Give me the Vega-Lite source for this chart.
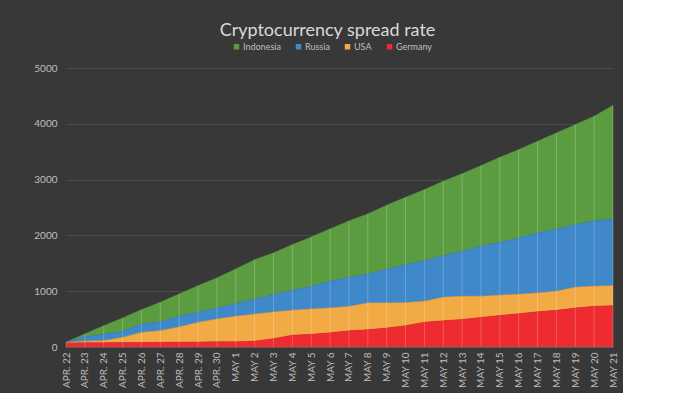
{
  "$schema": "https://vega.github.io/schema/vega-lite/v6.json",
  "autosize": {"type": "none"},
  "padding": {"left": 66, "top": 68, "right": 10, "bottom": 46},
  "width": 547,
  "height": 279,
  "background": "#383838",
  "title": {
    "text": "Cryptocurrency spread rate",
    "font": "Lato",
    "fontSize": 18,
    "fontWeight": "normal",
    "color": "#d9d9d9",
    "anchor": "middle",
    "frame": "group",
    "dx": -12,
    "offset": 2
  },
  "data": {
    "values": [
      {"date": "APR. 22", "Indonesia": 3, "Russia": 4, "USA": 8, "Germany": 70},
      {"date": "APR. 23", "Indonesia": 50, "Russia": 80, "USA": 30, "Germany": 75},
      {"date": "APR. 24", "Indonesia": 150, "Russia": 117, "USA": 35, "Germany": 78},
      {"date": "APR. 25", "Indonesia": 240, "Russia": 108, "USA": 92, "Germany": 80},
      {"date": "APR. 26", "Indonesia": 257, "Russia": 150, "USA": 180, "Germany": 82},
      {"date": "APR. 27", "Indonesia": 345, "Russia": 163, "USA": 208, "Germany": 84},
      {"date": "APR. 28", "Indonesia": 398, "Russia": 194, "USA": 272, "Germany": 86},
      {"date": "APR. 29", "Indonesia": 477, "Russia": 181, "USA": 353, "Germany": 88},
      {"date": "APR. 30", "Indonesia": 538, "Russia": 197, "USA": 410, "Germany": 92},
      {"date": "MAY 1", "Indonesia": 622, "Russia": 227, "USA": 454, "Germany": 95},
      {"date": "MAY 2", "Indonesia": 710, "Russia": 267, "USA": 483, "Germany": 105},
      {"date": "MAY 3", "Indonesia": 747, "Russia": 311, "USA": 477, "Germany": 150},
      {"date": "MAY 4", "Indonesia": 818, "Russia": 359, "USA": 445, "Germany": 212},
      {"date": "MAY 5", "Indonesia": 884, "Russia": 406, "USA": 453, "Germany": 228},
      {"date": "MAY 6", "Indonesia": 938, "Russia": 478, "USA": 444, "Germany": 255},
      {"date": "MAY 7", "Indonesia": 1010, "Russia": 525, "USA": 435, "Germany": 290},
      {"date": "MAY 8", "Indonesia": 1076, "Russia": 519, "USA": 479, "Germany": 310},
      {"date": "MAY 9", "Indonesia": 1141, "Russia": 609, "USA": 449, "Germany": 340},
      {"date": "MAY 10", "Indonesia": 1206, "Russia": 681, "USA": 413, "Germany": 382},
      {"date": "MAY 11", "Indonesia": 1273, "Russia": 729, "USA": 373, "Germany": 445},
      {"date": "MAY 12", "Indonesia": 1332, "Russia": 747, "USA": 420, "Germany": 470},
      {"date": "MAY 13", "Indonesia": 1391, "Russia": 807, "USA": 413, "Germany": 495},
      {"date": "MAY 14", "Indonesia": 1446, "Russia": 894, "USA": 380, "Germany": 530},
      {"date": "MAY 15", "Indonesia": 1523, "Russia": 950, "USA": 361, "Germany": 565},
      {"date": "MAY 16", "Indonesia": 1584, "Russia": 1009, "USA": 347, "Germany": 597},
      {"date": "MAY 17", "Indonesia": 1643, "Russia": 1075, "USA": 335, "Germany": 633},
      {"date": "MAY 18", "Indonesia": 1720, "Russia": 1117, "USA": 341, "Germany": 657},
      {"date": "MAY 19", "Indonesia": 1793, "Russia": 1123, "USA": 370, "Germany": 699},
      {"date": "MAY 20", "Indonesia": 1870, "Russia": 1177, "USA": 358, "Germany": 729},
      {"date": "MAY 21", "Indonesia": 2036, "Russia": 1195, "USA": 358, "Germany": 741}
    ]
  },
  "transform": [
    {"fold": ["Indonesia", "Russia", "USA", "Germany"], "as": ["country", "value"]},
    {"calculate": "indexof(['Germany', 'USA', 'Russia', 'Indonesia'], datum.country)", "as": "stackOrder"}
  ],
  "encoding": {
    "x": {
      "field": "date",
      "type": "ordinal",
      "sort": null,
      "scale": {"type": "point", "padding": 0},
      "axis": {
        "title": null,
        "labelAngle": -90,
        "ticks": false,
        "domain": true,
        "domainColor": "#5a5a5a",
        "labelColor": "#bfbfbf",
        "labelFont": "Lato",
        "labelFontSize": 10,
        "labelPadding": 5,
        "grid": false
      }
    }
  },
  "layer": [
    {
      "mark": {
        "type": "area",
        "opacity": 1,
        "line": {"color": "#e6e6e6", "strokeWidth": 1, "opacity": 0.55}
      },
      "encoding": {
        "y": {
          "field": "value",
          "type": "quantitative",
          "stack": "zero",
          "scale": {"domain": [0, 5000]},
          "axis": {
            "title": null,
            "values": [0, 500, 1000, 1500, 2000, 2500, 3000, 3500, 4000, 4500, 5000],
            "format": "d",
            "domain": false,
            "ticks": false,
            "labelColor": "#bfbfbf",
            "labelFont": "Lato",
            "labelFontSize": 10,
            "labelPadding": 9,
            "gridColor": "#4b4b4b",
            "gridWidth": 1
          }
        },
        "order": {"field": "stackOrder", "type": "quantitative", "sort": "ascending"},
        "color": {
          "field": "country",
          "type": "nominal",
          "sort": ["Indonesia", "Russia", "USA", "Germany"],
          "scale": {
            "domain": ["Indonesia", "Russia", "USA", "Germany"],
            "range": ["#5c9c41", "#3f88c9", "#f2aa45", "#ee2b30"]
          },
          "legend": {
            "orient": "none",
            "legendX": 166,
            "legendY": -26,
            "direction": "horizontal",
            "title": null,
            "symbolType": "square",
            "symbolSize": 30,
            "symbolStrokeWidth": 0,
            "symbolOpacity": 1,
            "labelColor": "#bfbfbf",
            "labelFont": "Lato",
            "labelFontSize": 9,
            "labelOffset": 2,
            "columnPadding": 13
          }
        }
      }
    },
    {
      "mark": {"type": "rule", "color": "#ffffff", "opacity": 0.22, "strokeWidth": 1},
      "encoding": {
        "y": {"aggregate": "sum", "field": "value", "type": "quantitative"},
        "y2": {"datum": 0}
      }
    }
  ],
  "config": {
    "view": {"stroke": null}
  }
}
